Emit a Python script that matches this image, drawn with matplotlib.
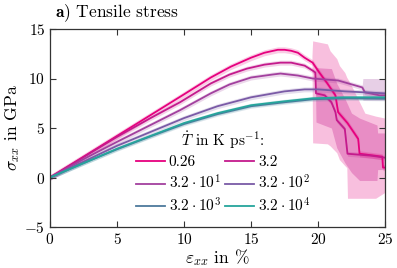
import numpy as np
import matplotlib
matplotlib.use("Agg")
import matplotlib.pyplot as plt

plt.rcParams['font.family'] = 'serif'
plt.rcParams['font.serif'] = ['cmr10']
plt.rcParams['mathtext.fontset'] = 'cm'
plt.rcParams['axes.formatter.use_mathtext'] = True

# strain in %, stress in GPa
labels = ['0.26', '3.2', r'$3.2\cdot10^1$', r'$3.2\cdot10^2$', r'$3.2\cdot10^3$', r'$3.2\cdot10^4$']
colors = ['#e6007e', '#c41a8c', '#a2409e', '#7a5aa6', '#4d7a9c', '#25a59c']

x_026 = [0, 2.5, 5, 7.5, 10, 12, 13.5, 15, 16, 17, 17.5, 18, 18.5, 19.0, 19.6, 20.1, 20.7, 21.3, 21.5, 22.2, 23.0, 23.1, 24.8, 24.85, 25]
y_026 = [0, 2.1, 4.2, 6.3, 8.4, 10.1, 11.2, 12.1, 12.6, 12.9, 12.9, 12.8, 12.6, 12.1, 11.6, 10.6, 9.5, 8.3, 6.6, 5.5, 3.9, 2.4, 2.1, 1.0, 1.0]

x_32 = [0, 2.5, 5, 7.5, 9.7, 12, 13.4, 14.7, 16, 17.2, 18, 19.0, 19.6, 19.8, 19.85, 20.5, 21.0, 21.3, 21.4, 22.0, 22.2, 24.0, 25]
y_32 = [0, 2.05, 4.1, 6.0, 7.6, 9.5, 10.4, 11.0, 11.4, 11.6, 11.6, 11.3, 10.8, 10.6, 8.5, 8.3, 7.6, 6.6, 5.8, 4.9, 2.4, 2.2, 2.0]

x_32e1 = [0, 2.5, 5, 7.5, 9.7, 12, 13.4, 15, 16.6, 17.2, 18.5, 19.6, 21.5, 23.3, 23.5, 24.6, 25]
y_32e1 = [0, 1.85, 3.6, 5.3, 6.8, 8.5, 9.4, 10.1, 10.4, 10.5, 10.3, 10.0, 9.8, 9.1, 8.6, 8.3, 8.3]

x_32e2 = [0, 2.5, 5, 7.5, 10, 12.5, 15, 17.5, 19, 20, 22, 25]
y_32e2 = [0, 1.6, 3.2, 4.6, 6.0, 7.2, 8.1, 8.7, 8.9, 8.9, 8.7, 8.5]

x_32e3 = [0, 2.5, 5, 7.5, 10, 12.5, 15, 17.5, 19.6, 22, 25]
y_32e3 = [0, 1.45, 2.85, 4.15, 5.4, 6.4, 7.2, 7.6, 7.9, 8.0, 7.95]

x_32e4 = [0, 2.5, 5, 7.5, 10, 12.5, 15, 17.5, 19.6, 22, 25]
y_32e4 = [0, 1.45, 2.9, 4.2, 5.5, 6.5, 7.3, 7.7, 8.0, 8.1, 8.1]

# spread between runs (narrow before fracture)
spread = [0.3, 0.25, 0.25, 0.25, 0.2, 0.2]

# wide spread after fracture
band_026_x = [19.55, 19.6, 20.7, 20.9, 21.4, 21.6, 22.0, 22.15, 22.2, 22.6, 23.5, 24.3, 25]
band_026_hi = [12.3, 13.8, 13.5, 12.8, 12.0, 11.3, 10.6, 10.1, 10.0, 9.0, 6.5, 6.2, 6.0]
band_026_lo = [11.9, 3.5, 3.4, 3.2, 2.5, 1.8, 1.2, 1.0, -2.1, -2.1, -2.1, -2.1, -1.5]

band_32_x = [19.8, 19.85, 21.0, 21.4, 22.0, 22.5, 23.1, 24.4, 24.45, 25]
band_32_hi = [10.8, 11.1, 11.0, 9.5, 8.0, 6.5, 6.0, 5.3, 4.5, 4.5]
band_32_lo = [10.4, 5.6, 5.0, 3.0, 1.5, 0.5, -0.3, -0.3, 0.8, 0.8]

band_32e1_x = [23.3, 23.35, 25]
band_32e1_hi = [9.3, 10.0, 10.0]
band_32e1_lo = [8.9, 7.8, 7.8]

xs = [x_026, x_32, x_32e1, x_32e2, x_32e3, x_32e4]
ys = [y_026, y_32, y_32e1, y_32e2, y_32e3, y_32e4]

fig = plt.figure(figsize=(3.97, 2.68), dpi=100)
ax = fig.add_axes([50/397, 1-227/268, 335/397, 198/268])

ax.fill_between(band_026_x, band_026_lo, band_026_hi, color=colors[0], alpha=0.25, lw=0)
ax.fill_between(band_32_x, band_32_lo, band_32_hi, color=colors[1], alpha=0.3, lw=0)
ax.fill_between(band_32e1_x, band_32e1_lo, band_32e1_hi, color=colors[2], alpha=0.25, lw=0)

lines = []
for x, y, c, s, lab in zip(xs, ys, colors, spread, labels):
    x = np.array(x)
    y = np.array(y)
    ax.fill_between(x, y - s, y + s, color=c, alpha=0.2, lw=0)
    l, = ax.plot(x, y, color=c, lw=1.3, label=lab)
    lines.append(l)

ax.set_xlim(0, 25)
ax.set_ylim(-5, 15)
ax.set_xticks([0, 5, 10, 15, 20, 25])
ax.set_yticks([-5, 0, 5, 10, 15])
ax.tick_params(direction='in', top=True, right=True, length=4, labelsize=11, color='#333333')
for sp in ax.spines.values():
    sp.set_color('#333333')
    sp.set_linewidth(0.9)

ax.set_xlabel(r'$\varepsilon_{xx}$ in %', fontsize=12.5, labelpad=0)
ax.set_ylabel(r'$\sigma_{xx}$ in GPa', fontsize=12.5, labelpad=2)

order = [0, 2, 4, 1, 3, 5]
leg = ax.legend([lines[i] for i in order], [labels[i] for i in order], ncol=2,
                title=r'$\dot{T}$ in K ps$^{-1}$:', frameon=False, fontsize=11,
                title_fontsize=11, loc='center', bbox_to_anchor=(0.516, 0.278),
                handlelength=1.9, handletextpad=0.25, columnspacing=0.3,
                labelspacing=0.3, borderpad=0.2)

fig.text(55/397, 1-13/268, r'$\mathbf{a)}$ Tensile stress', fontsize=12.5, va='center', ha='left')

fig.savefig('out.png', dpi=100)
